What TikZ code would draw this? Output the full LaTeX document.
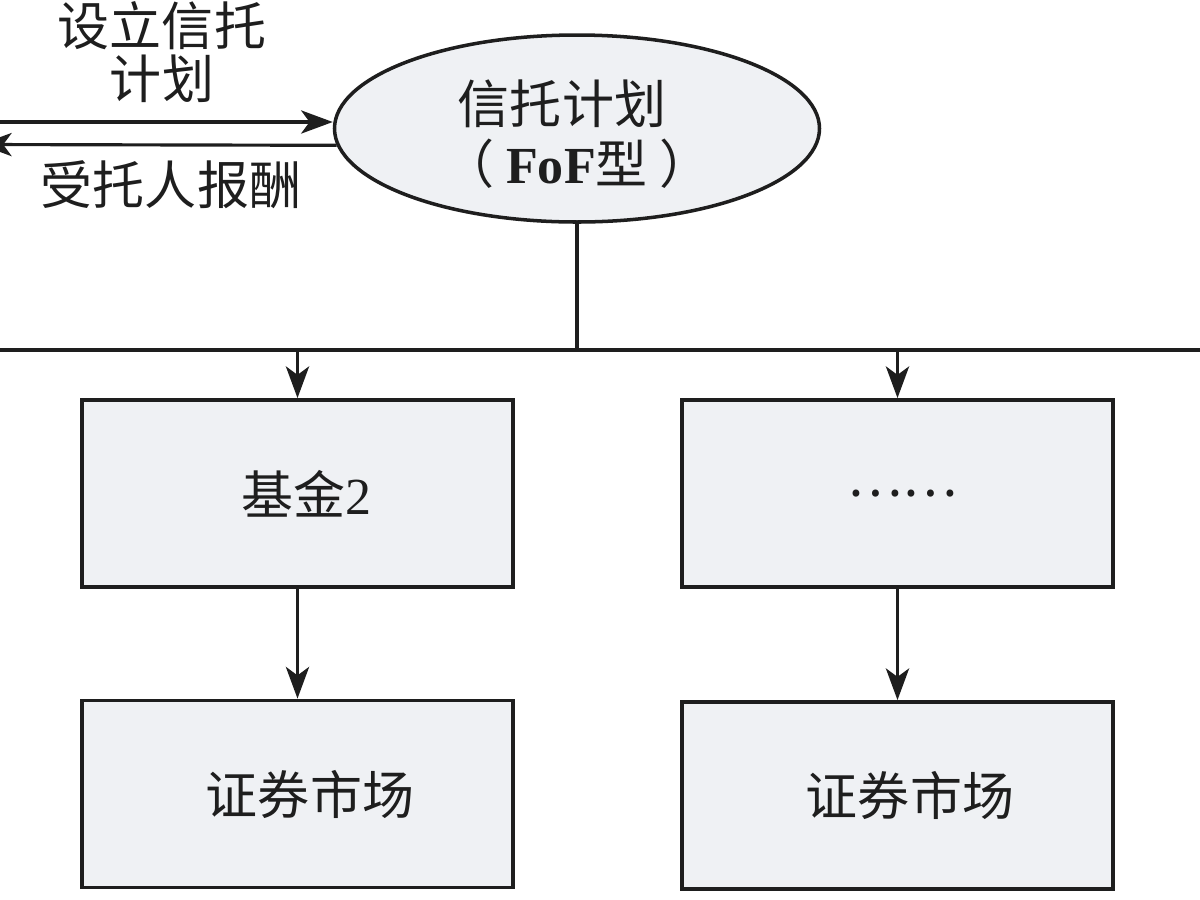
\documentclass[tikz,border=0pt]{standalone}
\usepackage{fontspec}
\setmainfont{Liberation Serif}
\newfontfamily\cjk{Noto Sans CJK SC}
\usetikzlibrary{shapes.geometric,arrows.meta}
\definecolor{boxfill}{HTML}{EFF1F4}
\definecolor{ink}{HTML}{1E1E1E}
\begin{document}
\begin{tikzpicture}[
  line width=0.9pt, draw=ink, color=ink,
  every node/.style={font=\fontsize{14.8pt}{14.2pt}\selectfont\cjk, text=ink},
  arr/.style={-{Stealth[length=9pt,width=6.6pt,inset=2.4pt]}},
  plan/.style={ellipse, draw, fill=boxfill, minimum width=4.85cm, minimum height=1.87cm,
    inner sep=0pt, line width=1pt},
  fundbox/.style={draw, fill=boxfill, minimum width=4.31cm, minimum height=1.87cm,
    inner sep=0pt, line width=1.1pt},
  lbl/.style={align=center, inner sep=0pt}
]
\useasboundingbox (0,0) rectangle (12,-9);
\fill[white] (0,0) rectangle (12,-9);

% trust plan
\node[plan] (plan) at (5.77,-1.285) {};
\node[lbl] (plantext) at ([yshift=-0.06cm]plan.center)
  {\hspace*{-0.3cm}信托计划\\[2.8pt]（\hspace{0.12cm}{\rmfamily\bfseries FoF}型\hspace{0.12cm}）};

% flows on the left
\coordinate (lin)  at (-0.2,-1.22);
\coordinate (lout) at (-0.2,-1.445);
\draw[arr] (lin) -- (lin -| plan.west);
\draw[arr] (plan.184) -- (lout);
\node[lbl] (setup) at (1.62,-0.52) {设立信托\\[0.7pt]计划};
\node[lbl] (fee)   at (1.71,-1.85) {受托人报酬};

% distribution bus
\coordinate (busL) at (0,-3.5);
\coordinate (busR) at (12.1,-3.5);
\draw (plan.south) -- (plan.south |- busL);
\draw (busL) -- (busR);

% funds
\node[fundbox] (f2) at (2.975,-4.935) {\hspace*{0.18cm}基金{\rmfamily 2}};
\node[fundbox] (fn) at (8.975,-4.935) {\hspace*{0.1cm}……};
\draw[arr] (f2.north |- busL) -- (f2.north);
\draw[arr] (fn.north |- busL) -- (fn.north);

% securities markets
\node[fundbox] (m1) at (2.975,-7.94)  {\hspace*{0.25cm}证券市场};
\node[fundbox] (m2) at (8.975,-7.955) {\hspace*{0.25cm}证券市场};
\draw[arr] (f2.south) -- (m1.north);
\draw[arr] (fn.south) -- (m2.north);
\end{tikzpicture}
\end{document}
